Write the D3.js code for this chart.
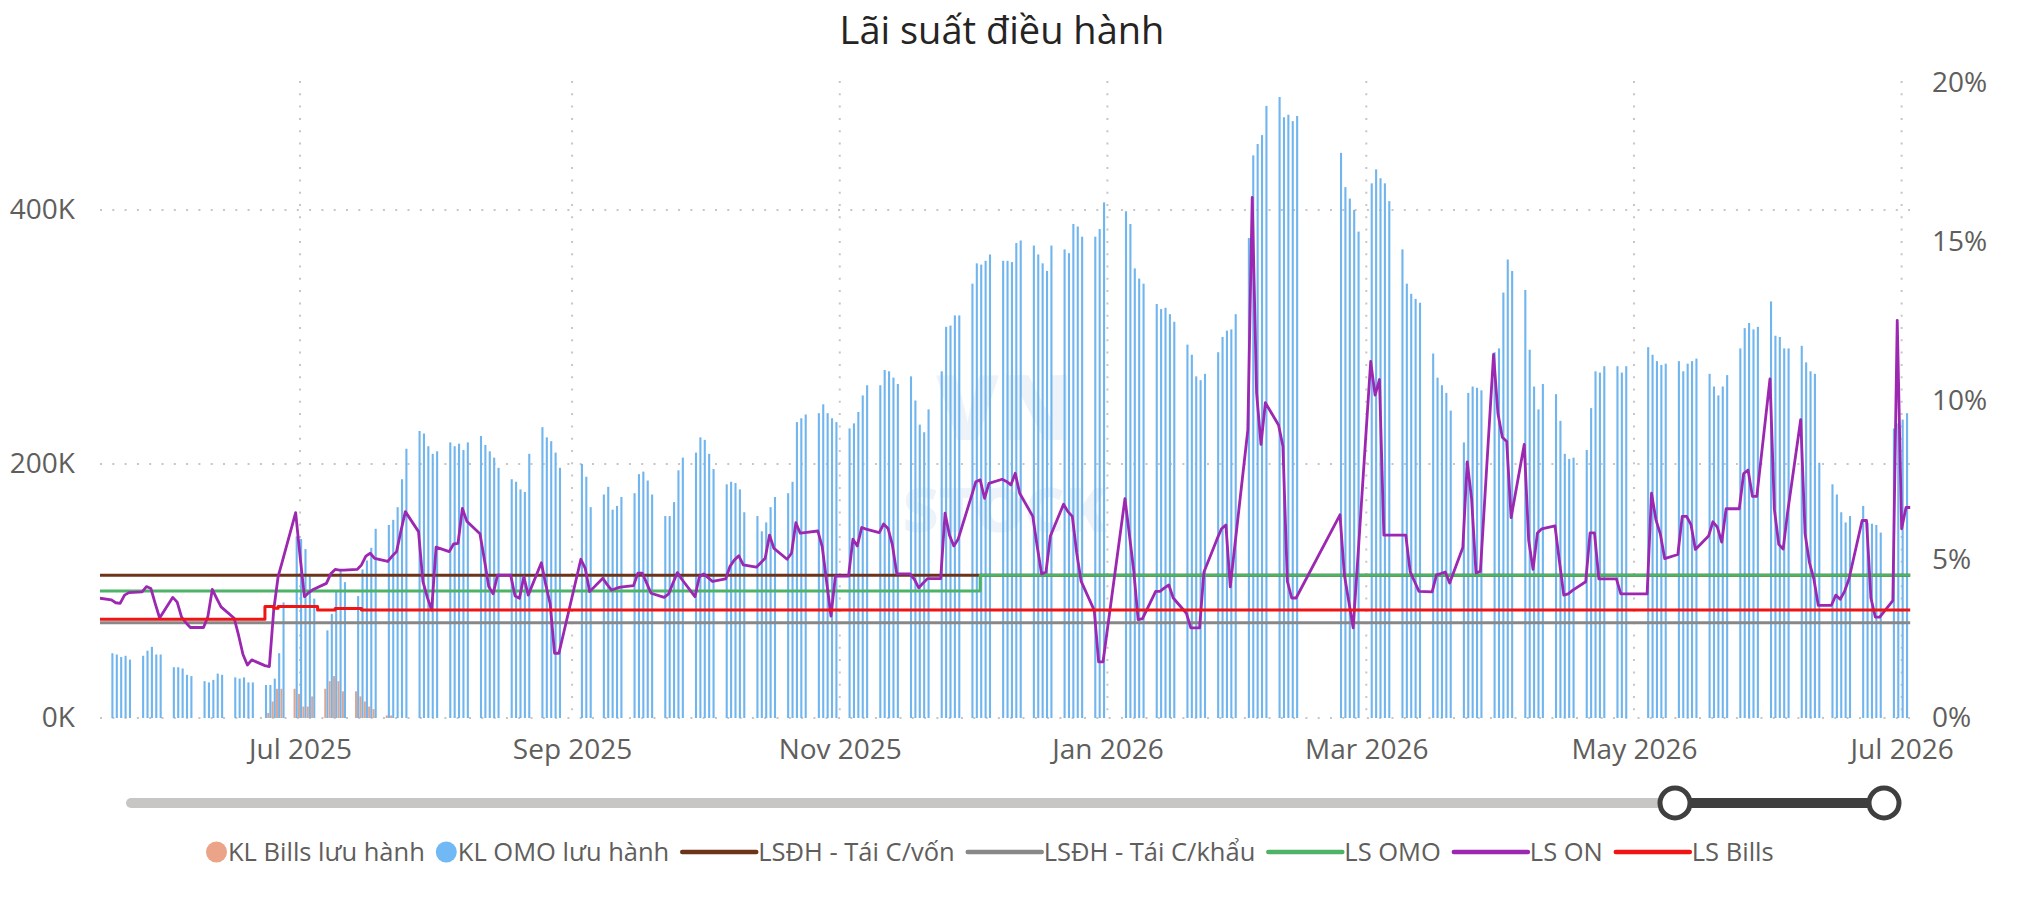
<!DOCTYPE html>
<html>
<head>
<meta charset="utf-8">
<script src="https://cdn.jsdelivr.net/npm/d3@7"></script>
<style>
  body { margin: 0; background: #fff; font-family: "Segoe UI", "Open Sans", sans-serif; }
</style>
</head>
<body>
<div id="chart"></div>
<script>
// Week rows start on Monday 2025-05-12, five weekday values each (null = no data)
const firstMonday = "2025-05-12";

// KL OMO lưu hành (nghìn tỷ, K)
const omoWeeks = [
  [null, null, null, null, null],
  [51, 50, 48, 49, 46], [49, 53, 56, 50, 50], [40, 40, 39, 34, 33], [29, 28, 30, 35, 34],
  [32, 31, 32, 28, 28], [26, 26, 31, 51, 91], [143, 141, 133, 113, 94], [69, 82, 100, 117, 107],
  [96, 117, 124, 134, 149], [152, 156, 166, 188, 212], [226, 224, 214, 208, 210], [217, 214, 216, 211, 217],
  [222, 215, 210, 205, 197], [188, 186, 180, 178, 208], [229, 221, 218, 209, 197], [null, null, 200, 190, 166],
  [176, 182, 164, 167, 174], [177, 192, 194, 187, 176], [159, 159, 170, 195, 205], [209, 221, 219, 208, 196],
  [184, 186, 185, 180, 162], [159, 147, 154, 166, 174], [177, 186, 233, 236, 239], [240, 247, 240, 236, 233],
  [228, 232, 241, 254, 262], [262, 274, 273, 268, 263], [269, 250, 231, 225, 243], [273, 308, 309, 317, 317],
  [342, 358, 357, 360, 365], [360, 360, 359, 374, 376], [372, 365, 358, 352, 372], [369, 366, 389, 387, 379],
  [379, 385, 406, null, null], [399, 389, 354, 346, 342], [326, 322, 323, 318, 312], [294, 286, 269, 266, 271],
  [288, 300, 305, 306, 318], [378, 443, 452, 459, 482], [489, 473, 475, 470, 474], [null, null, null, null, null],
  [445, 418, 409, 400, 383], [421, 432, 425, 421, 407], [369, 342, 334, 330, 327], [287, 268, 262, 256, 242],
  [217, 256, 261, 260, 258], [288, 291, 335, 361, 352], [337, 290, 261, 243, 263], [255, 234, 208, 204, 205],
  [211, 244, 273, 272, 277], [277, 272, 277, null, null], [292, 286, 281, 278, 279], [281, 273, 279, 281, 283],
  [271, 261, 254, 261, 270], [291, 307, 311, 306, 308], [328, 301, 300, 291, 291], [293, 280, 273, 271, 201],
  [184, 176, 162, 154, 159], [167, 154, 153, 152, 146], [228, 232, 235, 240, null]
];

// KL Bills lưu hành (K), weeks from 2025-06-23
const billsFirstMonday = "2025-06-23";
const billsWeeks = [
  [null, 4, 13, 23, 23], [23, 19, 9, 9, 17], [23, 29, 33, 29, 21], [21, 17, 13, 9, 7], [2, 2, null, null, null]
];

// LS ON (%)
const onWeeks = [
  [null, null, null, null, 3.78],
  [3.72, 3.63, 3.61, 3.87, 3.95], [3.97, 4.14, 4.08, 3.6, 3.15], [3.8, 3.65, 3.18, 3.0, 2.85], [2.85, 3.2, 4.05, 3.77, 3.5],
  [3.14, 2.6, 2.0, 1.67, 1.83], [1.65, 1.62, 3.4, 4.45, 4.95], [6.47, 5.1, 3.82, 3.95, 4.05], [4.24, 4.54, 4.68, 4.66, 4.66],
  [4.68, 4.82, 5.1, 5.19, 5.03], [4.93, 5.1, 5.24, 5.9, 6.5], [5.87, 4.3, 3.8, 3.4, 5.38], [5.24, 5.48, 5.5, 6.6, 6.2],
  [5.8, 5.0, 4.14, 3.91, 4.5], [4.5, 3.84, 3.77, 4.45, 3.87], [4.89, 4.2, 3.6, 2.04, 2.04], [null, null, 5.0, 4.71, 3.98],
  [4.4, 4.2, 4.03, 4.08, 4.12], [4.17, 4.56, 4.56, 4.25, 3.93], [3.8, 3.91, 4.25, 4.58, 4.37], [3.82, 4.45, 4.54, 4.42, 4.3],
  [4.38, 4.78, 4.98, 5.11, 4.82], [4.75, 4.89, 5.03, 5.76, 5.34], [5.0, 5.19, 6.15, 5.82, 5.84], [5.89, 5.4, 4.3, 3.21, 4.47],
  [4.47, 5.63, 5.42, 6.0, 5.95], [5.84, 6.11, 5.97, 5.45, 4.54], [4.54, 4.37, 4.1, 4.25, 4.39], [4.39, 6.45, 5.76, 5.42, 5.64],
  [6.98, 7.44, 7.5, 6.92, 7.39], [7.52, 7.45, 7.34, 7.71, 7.08], [6.35, 5.4, 4.54, 4.6, 5.73], [6.73, 6.5, 6.35, 5.2, 4.31],
  [3.39, 1.77, 1.77, null, null], [6.91, 5.78, 4.64, 3.1, 3.13], [3.99, 3.99, 4.1, 4.19, 3.78], [3.3, 2.84, 2.84, 2.84, 4.6],
  [5.64, 5.96, 6.08, 4.13, 5.38], [9.07, 16.4, 10.23, 8.62, 9.93], [9.23, 8.56, 4.31, 3.78, 3.78], [null, null, null, null, null],
  [6.4, 4.51, 3.68, 2.84, 4.88], [11.23, 10.17, 10.66, 5.76, 5.76], [5.76, 5.76, 4.6, 4.3, 3.99], [3.97, 4.51, 4.55, 4.6, 4.25],
  [5.37, 8.07, 6.9, 4.57, 4.62], [11.45, 9.59, 8.84, 8.71, 6.31], [8.62, 5.6, 4.68, 5.83, 5.96], [6.05, 4.95, 3.87, 3.91, 4.02],
  [4.29, 5.83, 5.83, 4.38, 4.38], [4.38, 3.91, 3.91, null, null], [3.91, 7.08, 6.25, 5.8, 5.02], [5.15, 6.35, 6.35, 6.09, 5.31],
  [5.73, 6.18, 6.01, 5.54, 6.59], [6.59, 7.7, 7.81, 6.98, 6.98], [10.68, 6.57, 5.47, 5.32, 6.46], [9.4, 5.8, 4.89, 4.38, 3.55],
  [3.55, 3.87, 3.74, 3.99, 4.38], [6.22, 6.22, 3.78, 3.18, 3.18], [3.7, 12.52, 5.96, 6.63, 6.63]
];

// policy rates (%), step changes
const refinanceRate = 4.5;     // LSĐH - Tái C/vốn
const rediscountRate = 3.0;    // LSĐH - Tái C/khẩu
const omoRateDates = ["2025-05-16", "2025-12-03"];
const omoRateValues = [4.0, 4.5];
const billsRateDates = ["2025-05-16", "2025-06-23", "2025-06-25", "2025-06-26", "2025-07-05", "2025-07-09", "2025-07-15"];
const billsRateValues = [3.11, 3.51, 3.46, 3.51, 3.40, 3.45, 3.40];

const startDate = "2025-05-16", endDate = "2026-07-03";
const xTicks = ["2025-07-01", "2025-09-01", "2025-11-01", "2026-01-01", "2026-03-01", "2026-05-01", "2026-07-01"];
const leftTicks = [0, 200, 400];
const rightTicks = [0, 5, 10, 15, 20];

const legendItems = [
  {name: "KL Bills lưu hành", type: "dot", color: "#EBA487"},
  {name: "KL OMO lưu hành", type: "dot", color: "#70B9F5"},
  {name: "LSĐH - Tái C/vốn", type: "line", color: "#6E3419"},
  {name: "LSĐH - Tái C/khẩu", type: "line", color: "#888888"},
  {name: "LS OMO", type: "line", color: "#4DB366"},
  {name: "LS ON", type: "line", color: "#9C27B0"},
  {name: "LS Bills", type: "line", color: "#F01414"}
];

const W = 2028, H = 911;
const plot = {left: 98, right: 1910, top: 83, bottom: 718};
const parse = d3.utcParse("%Y-%m-%d");

function flatten(weeks, first) {
  const m = parse(first), out = [];
  weeks.forEach((wk, w) => wk.forEach((v, i) => {
    if (v != null) out.push({date: d3.utcDay.offset(m, w * 7 + i), value: v});
  }));
  return out;
}
const omo = flatten(omoWeeks, firstMonday);
const bills = flatten(billsWeeks, billsFirstMonday);
const on = flatten(onWeeks, firstMonday);

const x = d3.scaleUtc().domain([parse(startDate), parse(endDate)]).range([98.2, 1910.4]);
const yL = d3.scaleLinear().domain([0, 500]).range([plot.bottom, plot.top]);
const yR = d3.scaleLinear().domain([0, 20]).range([plot.bottom, plot.top]);

const svg = d3.select("#chart").append("svg")
  .attr("width", W).attr("height", H)
  .style("font-family", "'Segoe UI', 'Open Sans', sans-serif");

svg.append("defs").append("clipPath").attr("id", "plotclip")
  .append("rect").attr("x", 100).attr("y", 70).attr("width", 1810.5).attr("height", 650);

// title
svg.append("text")
  .attr("x", 1002).attr("y", 44)
  .attr("text-anchor", "middle")
  .style("font-size", "38px").style("fill", "#252423")
  .text("Lãi suất điều hành");

// gridlines (dotted)
const grid = svg.append("g").attr("stroke", "#C8C6C4").attr("stroke-width", 2)
  .attr("stroke-dasharray", "2 10.3");
leftTicks.forEach(t => {
  grid.append("line").attr("x1", 100).attr("x2", plot.right)
    .attr("y1", yL(t)).attr("y2", yL(t));
});
xTicks.forEach(t => {
  grid.append("line").attr("x1", x(parse(t))).attr("x2", x(parse(t)))
    .attr("y1", 81).attr("y2", plot.bottom);
});

// watermark (faint logo text)
const wm = svg.append("g").attr("opacity", 0.08).style("font-weight", "900")
  .attr("fill", "#2C6FB0").attr("text-anchor", "middle");
wm.append("text").attr("x", 1005).attr("y", 440).style("font-size", "90px").text("VN");
wm.append("text").attr("x", 1005).attr("y", 532).style("font-size", "62px").text("STOCK");

// axes
const axisFont = g => g.call(s => s.select(".domain").remove())
  .selectAll("text").style("font-size", "28px").style("fill", "#605E5C")
  .style("font-family", "'Segoe UI', 'Open Sans', sans-serif");

svg.append("g").attr("transform", "translate(100,0)")
  .call(d3.axisLeft(yL).tickValues(leftTicks).tickSize(0).tickPadding(25).tickFormat(d => d + "K"))
  .call(axisFont);
svg.append("g").attr("transform", `translate(${plot.right},0)`)
  .call(d3.axisRight(yR).tickValues(rightTicks).tickSize(0).tickPadding(22).tickFormat(d => d + "%"))
  .call(axisFont);
svg.append("g").attr("transform", `translate(0,${plot.bottom})`)
  .call(d3.axisBottom(x).tickValues(xTicks.map(parse)).tickSize(0).tickPadding(21)
    .tickFormat(d3.utcFormat("%b %Y")))
  .call(axisFont);

const body = svg.append("g").attr("clip-path", "url(#plotclip)");

// columns
body.append("g").selectAll("rect").data(omo).join("rect")
  .attr("x", d => x(d.date)).attr("width", 2.1)
  .attr("y", d => yL(d.value)).attr("height", d => yL(0) - yL(d.value))
  .attr("fill", "#70B5EE");
body.append("g").selectAll("rect").data(bills).join("rect")
  .attr("x", d => x(d.date) - 2.1).attr("width", 2.1)
  .attr("y", d => yL(d.value)).attr("height", d => yL(0) - yL(d.value))
  .attr("fill", "#D9A794");

// rate lines
const x0 = parse(startDate), x1 = parse(endDate);
const flat = v => [{date: x0, value: v}, {date: x1, value: v}];
const steps = (ds, vs) => ds.map((d, i) => ({date: parse(d), value: vs[i]}))
  .concat([{date: x1, value: vs[vs.length - 1]}]);
const lineStep = d3.line().x(d => x(d.date)).y(d => yR(d.value)).curve(d3.curveStepAfter);
const lineStraight = d3.line().x(d => x(d.date)).y(d => yR(d.value));

const series = [
  {data: flat(refinanceRate), color: "#6E3419", gen: lineStep, w: 3},
  {data: flat(rediscountRate), color: "#888888", gen: lineStep, w: 3},
  {data: steps(omoRateDates, omoRateValues), color: "#4DB366", gen: lineStep, w: 3},
  {data: on, color: "#9C27B0", gen: lineStraight, w: 2.8},
  {data: steps(billsRateDates, billsRateValues), color: "#F01414", gen: lineStep, w: 3}
];
series.forEach(s => {
  body.append("path").datum(s.data)
    .attr("d", s.gen).attr("fill", "none")
    .attr("stroke", s.color).attr("stroke-width", s.w)
    .attr("stroke-linejoin", "round");
});

// range slider
const slider = svg.append("g");
slider.append("line").attr("x1", 131).attr("x2", 1884).attr("y1", 803).attr("y2", 803)
  .attr("stroke", "#C8C6C4").attr("stroke-width", 10).attr("stroke-linecap", "round");
slider.append("line").attr("x1", 1675).attr("x2", 1884).attr("y1", 803).attr("y2", 803)
  .attr("stroke", "#3F3F3F").attr("stroke-width", 10);
[1675, 1884].forEach(cx => {
  slider.append("circle").attr("cx", cx).attr("cy", 803).attr("r", 15)
    .attr("fill", "#fff").attr("stroke", "#3F3F3F").attr("stroke-width", 5);
});

// legend
const legend = svg.append("g").attr("transform", "translate(206,852)");
let lx = 0;
legendItems.forEach(it => {
  const g = legend.append("g").attr("transform", `translate(${lx},0)`);
  let mw;
  if (it.type === "dot") {
    g.append("circle").attr("cx", 10.5).attr("cy", 0).attr("r", 10.5).attr("fill", it.color);
    mw = 22;
  } else {
    g.append("line").attr("x1", 2).attr("x2", 76).attr("y1", 0).attr("y2", 0)
      .attr("stroke", it.color).attr("stroke-width", 4.5).attr("stroke-linecap", "round");
    mw = 78;
  }
  const t = g.append("text").attr("x", mw).attr("y", 0).attr("dy", "0.35em")
    .style("font-size", "25.5px").style("fill", "#605E5C").text(it.name);
  lx += mw + t.node().getComputedTextLength() + 11;
});
</script>
</body>
</html>
